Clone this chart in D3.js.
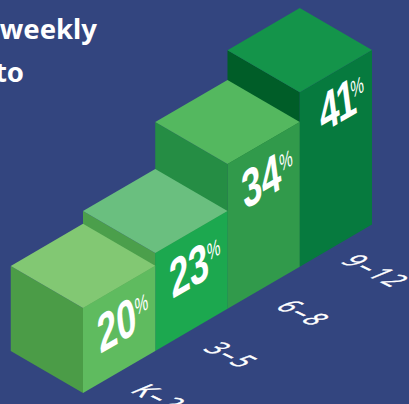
<!DOCTYPE html>
<html>
<head>
<meta charset="utf-8">
<script src="https://cdn.jsdelivr.net/npm/d3@7"></script>
<style>
  html, body { margin: 0; padding: 0; background: #33457f; }
  svg { display: block; }
</style>
</head>
<body>
<svg id="chart" width="409" height="404"></svg>
<script>
const grades = ["K–2", "3–5", "6–8", "9–12"];
const shares = [20, 23, 34, 41];
const topColors = ["#82c873", "#6abf7f", "#54b85f", "#14944a"];
const leftColors = ["#4b9c47", "#4b9f4b", "#258d44", "#005d28"];
const rightColors = ["#5fbb5f", "#1ca84f", "#319a4b", "#067a3e"];
const headingLines = ["weekly", "to"];

const svg = d3.select("#chart");

// Isometric floor: u runs along the front edge, depth runs back to the upper left.
const uScale = d3.scaleBand().domain(grades).range([0, 4]).padding(0);
const heightScale = d3.scaleLinear().domain([0, 41]).range([0, 174.5]);
const project = (u, depth, z) => [
  83 + 72.25 * u - 72.25 * depth,
  393 - 42.1 * u - 42 * depth - z
];
const poly = pts => pts.map(p => p.join(",")).join(" ");

const columns = grades.map((g, i) => ({
  grade: g,
  value: shares[i],
  u0: uScale(g),
  u1: uScale(g) + uScale.bandwidth(),
  h: heightScale(shares[i]),
  top: topColors[i],
  left: leftColors[i],
  right: rightColors[i]
}));

// Paint from the far column to the near one so nearer blocks overlap.
const blocks = svg.append("g").selectAll("g")
  .data(columns.slice().reverse())
  .join("g");

blocks.append("polygon")
  .attr("fill", d => d.left)
  .attr("points", d => poly([project(d.u0, 0, 0), project(d.u0, 1, 0), project(d.u0, 1, d.h), project(d.u0, 0, d.h)]));
blocks.append("polygon")
  .attr("fill", d => d.right)
  .attr("points", d => poly([project(d.u0, 0, 0), project(d.u1, 0, 0), project(d.u1, 0, d.h), project(d.u0, 0, d.h)]));
blocks.append("polygon")
  .attr("fill", d => d.top)
  .attr("points", d => poly([project(d.u0, 0, d.h), project(d.u1, 0, d.h), project(d.u1, 1, d.h), project(d.u0, 1, d.h)]));

// Value labels sit on each block's right-hand face, sheared to follow it.
// "41" is kerned tighter because its 1 is narrow, so its % sits closer.
const isTight = d => d.value === 41;
const valueLabels = blocks.append("g")
  .attr("transform", d => {
    const [x, y] = project(d.u0, 0, d.h);
    const [dx, dy] = isTight(d) ? [22, 41] : [17, 46];
    return `translate(${x + dx},${y + dy}) matrix(1,-0.582,0.13,1,0,0)`;
  });
valueLabels.append("text")
  .attr("transform", "scale(0.66,1)")
  .attr("letter-spacing", d => isTight(d) ? -3 : 0)
  .attr("fill", "#fff")
  .attr("font-family", "'Liberation Sans Narrow','Liberation Sans',sans-serif")
  .attr("font-weight", 700)
  .attr("font-size", 52)
  .text(d => d.value);
valueLabels.append("text")
  .attr("transform", d => `translate(${isTight(d) ? 32 : 38},-16) scale(0.6,0.95)`)
  .attr("fill", "#fff")
  .attr("font-family", "'Liberation Sans Narrow','Liberation Sans',sans-serif")
  .attr("font-size", 24)
  .text("%");

// Grade labels lie flat on the floor in front of each block.
svg.append("g").selectAll("text")
  .data(columns)
  .join("text")
  .attr("transform", d => {
    const [x, y] = project(d.u0 + 0.5, -0.42, -12);
    return `translate(${x},${y}) matrix(0.72,0.36,-1.0,0.42,0,0)`;
  })
  .attr("text-anchor", "middle")
  .attr("letter-spacing", 3)
  .attr("fill", "#fff")
  .attr("stroke", "#fff")
  .attr("stroke-width", 0.5)
  .attr("font-family", "'Open Sans',sans-serif")
  .attr("font-size", 28)
  .text(d => d.grade);

// Heading text, running in from the left edge of the frame.
svg.append("g").selectAll("text")
  .data(headingLines)
  .join("text")
  .attr("x", (d, i) => [97, 24][i])
  .attr("y", (d, i) => 39 + i * 43)
  .attr("text-anchor", "end")
  .attr("fill", "#fff")
  .attr("font-family", "'Noto Sans',sans-serif")
  .attr("font-weight", 700)
  .attr("font-size", 27.5)
  .text(d => d);
</script>
</body>
</html>
